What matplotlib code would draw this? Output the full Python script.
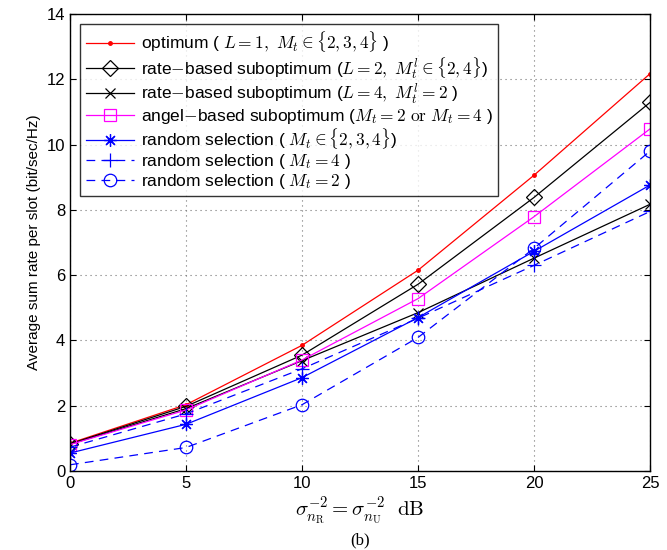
import numpy as np
import matplotlib.pyplot as plt

plt.rcParams['font.family'] = ['Liberation Sans', 'DejaVu Sans']
plt.rcParams['mathtext.fontset'] = 'cm'

# --- data ---
snr_db = [0, 5, 10, 15, 20, 25]

optimum = [0.85, 2.03, 3.85, 6.15, 9.06, 12.17]
rate_L2 = [0.83, 1.98, 3.55, 5.72, 8.38, 11.29]
rate_L4 = [0.82, 1.91, 3.38, 4.85, 6.52, 8.17]
angle_based = [0.81, 1.87, 3.40, 5.28, 7.79, 10.48]
rand_all = [0.55, 1.43, 2.86, 4.70, 6.73, 8.76]
rand_mt4 = [0.73, 1.75, 3.13, 4.68, 6.30, 7.95]
rand_mt2 = [0.19, 0.72, 2.03, 4.09, 6.82, 9.80]

labels = [
    r'optimum ( $L=1,\ M_t\in\{2,3,4\}$ )',
    r'rate$-$based suboptimum ($L=2,\ M_t^l\in\{2,4\}$)',
    r'rate$-$based suboptimum ($L=4,\ M_t^l=2$ )',
    r'angel$-$based suboptimum ($M_t=2\ \mathrm{or}\ M_t=4$ )',
    r'random selection ( $M_t\in\{2,3,4\}$)',
    r'random selection ( $M_t=4$ )',
    r'random selection ( $M_t=2$ )',
]

fig = plt.figure(figsize=(6.67, 5.5), dpi=100)
ax = fig.add_axes([70 / 667, 79 / 550, 580 / 667, 457 / 550])

lw = 0.9
asterisk = (8, 2, 0)
ax.plot(snr_db, optimum, '-', color='red', marker='.', ms=5, lw=lw, label=labels[0])
ax.plot(snr_db, rate_L2, '-', color='black', marker='D', ms=8, mfc='none', mew=0.9, lw=lw, label=labels[1])
ax.plot(snr_db, rate_L4, '-', color='black', marker='x', ms=7, mew=0.9, lw=lw, label=labels[2])
ax.plot(snr_db, angle_based, '-', color='magenta', marker='s', ms=8, mfc='none', mew=0.9, lw=lw, label=labels[3])
ax.plot(snr_db, rand_all, '-', color='blue', marker=asterisk, ms=9, mew=0.9, lw=lw, label=labels[4])
ax.plot(snr_db, rand_mt4, '--', color='blue', marker='+', ms=10, mew=0.9, lw=lw, dashes=(7, 5), label=labels[5])
ax.plot(snr_db, rand_mt2, '--', color='blue', marker='o', ms=9, mfc='none', mew=0.9, lw=lw, dashes=(7, 5), label=labels[6])

ax.set_xlim(0, 25)
ax.set_ylim(0, 14)
ax.set_xticks(np.arange(0, 26, 5))
ax.set_yticks(np.arange(0, 15, 2))
ax.tick_params(direction='in', top=True, right=True, labelsize=12, length=4)
ax.grid(True, linestyle=(0, (1, 3.5)), color='0.45', lw=0.8)
for s in ax.spines.values():
    s.set_linewidth(1.0)

ax.set_ylabel('Average sum rate per slot (bit/sec/Hz)', fontsize=11)
ax.set_xlabel(r'$\sigma_{n_{\mathrm{R}}}^{-2}=\sigma_{n_{\mathrm{U}}}^{-2}\ \ \mathrm{dB}$', fontsize=15, labelpad=3)
fig.text(0.5 * (70 + 650) / 667, 10 / 550, '(b)', ha='center', va='center',
         fontsize=12, family='Liberation Serif')

leg = ax.legend(loc='upper left', fontsize=12.5, frameon=True, fancybox=False,
                edgecolor='black', borderpad=0.3, labelspacing=0.05,
                handlelength=2.8, handletextpad=0.4, borderaxespad=0.6)
leg.get_frame().set_linewidth(1.0)

fig.savefig('out.png', dpi=100)
